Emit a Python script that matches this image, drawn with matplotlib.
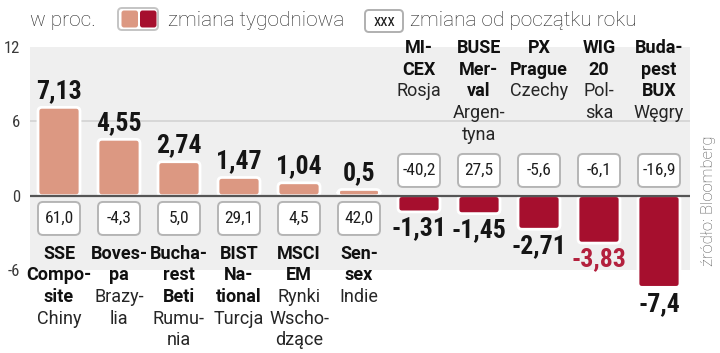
import matplotlib
matplotlib.use("Agg")
import matplotlib.pyplot as plt
from matplotlib.patches import FancyBboxPatch
from matplotlib import font_manager as fm
from matplotlib.font_manager import FontProperties

# ---------------- data ----------------
index_names = ["SSE\nCompo-\nsite", "Boves-\npa", "Bucha-\nrest\nBeti", "BIST\nNa-\ntional",
               "MSCI\nEM", "Sen-\nsex", "MI-\nCEX", "BUSE\nMer-\nval", "PX\nPrague",
               "WIG\n20", "Buda-\npest\nBUX"]
countries = ["Chiny", "Brazy-\nlia", "Rumu-\nnia", "Turcja", "Rynki\nWscho-\ndzące", "Indie",
             "Rosja", "Argen-\ntyna", "Czechy", "Pol-\nska", "Węgry"]
weekly = [7.13, 4.55, 2.74, 1.47, 1.04, 0.5, -1.31, -1.45, -2.71, -3.83, -7.4]
weekly_labels = ["7,13", "4,55", "2,74", "1,47", "1,04", "0,5",
                 "-1,31", "-1,45", "-2,71", "-3,83", "-7,4"]
ytd = [61.0, -4.3, 5.0, 29.1, 4.5, 42.0, -40.2, 27.5, -5.6, -6.1, -16.9]
y_ticks = [-6, 0, 6, 12]
y_tick_labels = ["-6", "0", "6", "12"]
highlighted = "WIG\n20"

# ---------------- fonts ----------------
avail = {f.name for f in fm.fontManager.ttflist}
def pick(*names):
    for n in names:
        if n in avail:
            return n
    return "DejaVu Sans"
NARROW = pick("Liberation Sans Narrow", "Roboto Condensed", "Roboto")
SANS = pick("Roboto", "Open Sans", "DejaVu Sans")
nscale = 1.0 if NARROW in ("Liberation Sans Narrow", "Roboto Condensed") else 0.85
FP_REG = lambda size: FontProperties(family=NARROW, size=size)
FP_BOLD = lambda size: FontProperties(family=NARROW, weight="bold", size=size)

POS_C = "#dc9882"
NEG_C = "#a60f2e"
HL_C = "#b3203d"

DPI = 100
PT = 72.0 / DPI  # px -> points

fig = plt.figure(figsize=(7.2, 3.53), dpi=DPI)
W, H = 720, 353
ax_l, ax_r, ax_t, ax_b = 30, 690, 47, 270
ax = fig.add_axes([ax_l / W, (H - ax_b) / H, (ax_r - ax_l) / W, (ax_b - ax_t) / H])
n = len(weekly)
x = list(range(n))
ax.set_xlim(-29 / 60, 631 / 60)
ax.set_ylim(-6, 12)
ax.set_facecolor("#efefef")
for s in ax.spines.values():
    s.set_visible(False)
ax.set_xticks([])
ax.set_yticks(y_ticks)
ax.set_yticklabels(y_tick_labels, fontproperties=FP_REG(12 * nscale), color="#3a3a3a")
ax.tick_params(axis="y", length=0, pad=7)

ppx = (ax_r - ax_l) / (ax.get_xlim()[1] - ax.get_xlim()[0])
ppy = (ax_b - ax_t) / (ax.get_ylim()[1] - ax.get_ylim()[0])
aspect = ppx / ppy

ax.axhline(6, color="#d3d3d3", lw=1.2, zorder=1)
ax.axhline(0, color="#555555", lw=1.6, zorder=3)

bar_w = 0.7
colors = [POS_C if v >= 0 else NEG_C for v in weekly]
bars = ax.bar(x, weekly, width=bar_w, color=colors)
for rect, c in zip(bars, colors):
    rect.set_visible(False)
    x0 = rect.get_x()
    y0 = min(rect.get_y(), rect.get_y() + rect.get_height())
    h = abs(rect.get_height())
    p = FancyBboxPatch((x0, y0), rect.get_width(), h,
                       boxstyle=f"round,pad=0,rounding_size={4 / ppx}",
                       mutation_aspect=aspect, fc=c, ec="white", lw=2,
                       zorder=2, clip_on=False)
    ax.add_patch(p)

# YTD boxes
box_h = 33 / ppy
for i, (v, yv) in enumerate(zip(weekly, ytd)):
    if v >= 0:
        y0 = -(39.3 / ppy)
    else:
        y0 = 8.7 / ppy
    bp = FancyBboxPatch((i - bar_w / 2, y0), bar_w, box_h,
                        boxstyle=f"round,pad=0,rounding_size={5 / ppx}",
                        mutation_aspect=aspect, fc="white", ec="#b5b5b5", lw=1.4,
                        zorder=4, clip_on=False)
    ax.add_patch(bp)
    ax.text(i, y0 + box_h / 2, f"{yv:.1f}".replace(".", ","), ha="center", va="center",
            fontproperties=FP_REG(12.5 * nscale), color="#1e1e1e", zorder=5)

# weekly value labels
for i, (v, lab, nm) in enumerate(zip(weekly, weekly_labels, index_names)):
    off = 16.5 if v >= 0 else -16.5
    col = HL_C if nm == highlighted else "#151515"
    ax.annotate(lab, xy=(i, v), xytext=(0, off * PT), textcoords="offset points",
                ha="center", va="center", fontproperties=FP_BOLD(18.5 * nscale),
                color=col, zorder=6, annotation_clip=False)

# names
zero_px = ax_t + 12 * ppy
for i, (v, nm, ct) in enumerate(zip(weekly, index_names, countries)):
    lines = [(t, True) for t in nm.split("\n")] + [(t, False) for t in ct.split("\n")]
    if v >= 0:
        start, step = -(254 - zero_px), -21.5
    else:
        start, step = (zero_px - 48), -21.7
    for k, (t, bold) in enumerate(lines):
        ax.annotate(t, xy=(i, 0), xytext=(0, (start + k * step) * PT),
                    textcoords="offset points", ha="center", va="center",
                    fontfamily=SANS, fontweight="bold" if bold else "normal",
                    fontsize=13, color="#111111" if bold else "#262626",
                    zorder=6, annotation_clip=False)

# ---------------- overlay (legend, source) in pixel coords ----------------
ov = fig.add_axes([0, 0, 1, 1], zorder=-1)
ov.set_xlim(0, W)
ov.set_ylim(H, 0)
ov.axis("off")
ov.text(30, 20, "w proc.", ha="left", va="center", fontfamily=SANS, fontweight="light",
        fontsize=15, color="#262626")
ov.add_patch(FancyBboxPatch((118, 8), 40, 22, boxstyle="round,pad=0,rounding_size=4",
                            fc="white", ec="#c4c4c4", lw=1.4))
ov.add_patch(FancyBboxPatch((121.5, 10.5), 16.5, 17, boxstyle="round,pad=0,rounding_size=2.5",
                            fc=POS_C, ec="none"))
ov.add_patch(FancyBboxPatch((140, 10.5), 16.5, 17, boxstyle="round,pad=0,rounding_size=2.5",
                            fc=NEG_C, ec="none"))
ov.text(168, 20, "zmiana tygodniowa", ha="left", va="center", fontfamily=SANS,
        fontweight="light", fontsize=15, color="#262626")
ov.add_patch(FancyBboxPatch((365, 10), 38, 22, boxstyle="round,pad=0,rounding_size=4",
                            fc="white", ec="#b0b0b0", lw=1.4))
ov.text(384, 21, "xxx", ha="center", va="center", fontproperties=FP_REG(12 * nscale),
        color="#1e1e1e")
ov.text(410, 20, "zmiana od początku roku", ha="left", va="center", fontfamily=SANS,
        fontweight="light", fontsize=15, color="#262626")
ov.text(708, 201, "źródło: Bloomberg", rotation=90, ha="center", va="center",
        fontfamily=SANS, fontweight="light", fontsize=12, color="#555555")

fig.savefig("out.png", dpi=DPI)
